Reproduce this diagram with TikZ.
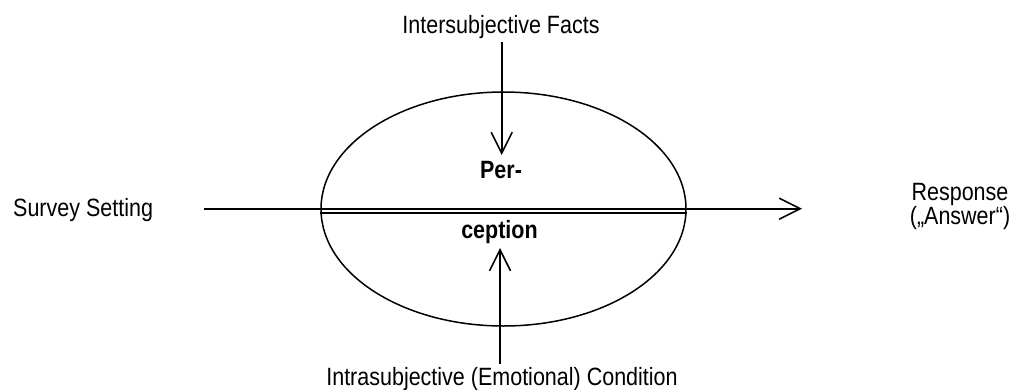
\documentclass[tikz,border=0pt]{standalone}
\usepackage{fontspec}
\setmainfont{Liberation Sans}[FakeStretch=0.86]
\usetikzlibrary{arrows.meta,shapes.geometric}
\begin{document}
\begin{tikzpicture}[x=1pt,y=-1pt,
  lbl/.style={font=\fontsize{25}{24}\selectfont, inner sep=0pt, anchor=base},
  blbl/.style={font=\fontsize{25}{24}\selectfont\bfseries, inner sep=0pt, anchor=base},
  ln/.style={line width=1.6pt, draw=black},
  arr/.style={ln, -{Straight Barb[length=21pt,width=21pt,line width=1.6pt]}},
  perception/.style={ellipse, draw=black, line width=1.5pt, minimum width=365pt, minimum height=234pt, inner sep=0pt}
]
\useasboundingbox (0,0) rectangle (1020,389);
\node[perception] (perc) at (503.5,209) {};
\node[lbl] (facts) at (501,33) {Intersubjective Facts};
\node[lbl] (cond) at (502,385) {Intrasubjective (Emotional) Condition};
\node[lbl, anchor=base west] (survey) at (13,216) {Survey Setting};
\node[lbl, anchor=base, align=center] (resp) at (960,224) {Response\\(„Answer“)};
\node[blbl] (per) at (501,178) {Per-};
\node[blbl] (cep) at (499.5,238) {ception};
\coordinate (toptip) at (501.7,155);
\coordinate (bottip) at (500,248);
\coordinate (inL) at (204,208.7);
\coordinate (outR) at (802,208.7);
\coordinate (facts foot) at (501.7,42);
\coordinate (cond head) at (500,364);
% connectors
\draw[arr] (facts foot) -- (toptip);
\draw[arr] (cond head) -- (bottip);
\draw[arr] (inL) -- (outR);
\draw[ln] ([yshift=-4pt]perc.west) -- ([yshift=-4pt]perc.east);
\end{tikzpicture}
\end{document}
